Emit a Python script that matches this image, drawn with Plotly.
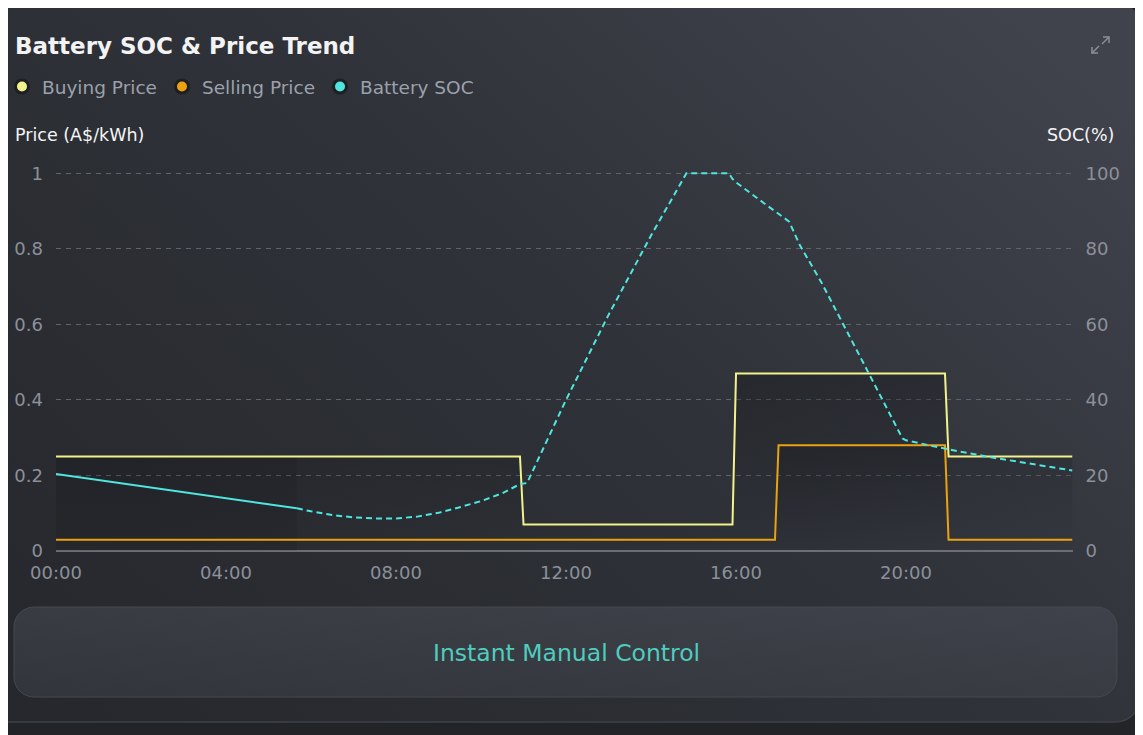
import base64
import plotly.graph_objects as go

W, H = 1143, 735
OX, OY = 8, 8  # page body margin offset

# price data (A$/kWh), step changes at 5-minute resolution
buy_times = ["00:00", "10:55", "11:00", "15:55", "16:00", "20:55", "21:00", "23:55"]
buy_price = [0.25, 0.25, 0.07, 0.07, 0.47, 0.47, 0.25, 0.25]
sell_times = ["00:00", "16:55", "17:00", "20:55", "21:00", "23:55"]
sell_price = [0.03, 0.03, 0.28, 0.28, 0.03, 0.03]

# battery SOC (%): recorded part and forecast part
soc_actual_times = ["00:00", "01:00", "02:00", "03:00", "04:00", "05:00", "05:40"]
soc_actual = [20.4, 18.8, 17.2, 15.6, 14.0, 12.4, 11.3]
soc_fc_times = ["05:40", "06:00", "06:30", "07:00", "07:30", "08:00", "08:30", "09:00",
                "09:30", "10:00", "10:30", "10:55", "11:05", "12:00", "13:00", "14:00",
                "14:50", "15:50", "15:55", "16:00", "16:40", "17:15", "17:30", "18:00",
                "19:00", "19:55", "20:00", "21:00", "22:00", "23:00", "23:55"]
soc_fc = [11.3, 10.5, 9.5, 8.9, 8.6, 8.6, 9.1, 10.1,
          11.6, 13.2, 15.3, 17.7, 18.0, 40.0, 62.5, 83.5,
          100, 100, 98.5, 97.6, 92.0, 87.2, 81.0, 71.3,
          49.7, 29.8, 29.3, 26.9, 24.8, 22.9, 21.3]

price_ticks = [0, 0.2, 0.4, 0.6, 0.8, 1]
soc_ticks = [0, 20, 40, 60, 80, 100]
hour_ticks = ["00:00", "04:00", "08:00", "12:00", "16:00", "20:00"]


def t(s):
    return "2024-01-01 " + s


def px(x):
    return (x - OX) / W


def py(y):
    return 1 - (y - OY) / H


YELLOW = "#f2f28c"
ORANGE = "#eca110"
CYAN = "#4fe6df"
FONT = "DejaVu Sans"

# card + button background as an svg image (in screen pixels, shifted by the body margin)
svg = f"""<svg xmlns="http://www.w3.org/2000/svg" width="{W}" height="{H}">
<defs>
<linearGradient id="g" x1="0" y1="0.85" x2="1" y2="0.15">
<stop offset="0" stop-color="#26282d"/><stop offset="0.55" stop-color="#2f3238"/><stop offset="1" stop-color="#40434c"/>
</linearGradient>
<linearGradient id="b" x1="0" y1="1" x2="1" y2="0">
<stop offset="0" stop-color="#32353b"/><stop offset="1" stop-color="#3f424a"/>
</linearGradient>
</defs>
<rect width="{W}" height="{H}" fill="#222428"/>
<g transform="translate({-OX},{-OY})">
<rect x="-30" y="3" width="1171" height="719" rx="26" fill="url(#g)" stroke="#3e4149" stroke-width="1.5"/>
<rect x="14" y="607" width="1103" height="90" rx="20" fill="url(#b)" stroke="#454850" stroke-width="1"/>
</g>
</svg>"""
svg_uri = "data:image/svg+xml;base64," + base64.b64encode(svg.encode()).decode()

fig = go.Figure()

# darker band under the past part of the buying price
fig.add_trace(go.Scatter(
    x=[t(s) for s in soc_actual_times[::len(soc_actual_times) - 1]],
    y=[buy_price[0], buy_price[0]],
    mode="lines", line=dict(width=0), fill="tozeroy",
    fillcolor="rgba(0,0,0,0.07)", showlegend=False, hoverinfo="skip"))

fig.add_trace(go.Scatter(
    x=[t(s) for s in buy_times], y=buy_price, mode="lines",
    line=dict(color=YELLOW, width=2), fill="tozeroy",
    fillgradient=dict(type="vertical", start=0, stop=0.47,
                      colorscale=[[0, "rgba(18,19,23,0)"], [1, "rgba(18,19,23,0.35)"]]),
    showlegend=False))
fig.add_trace(go.Scatter(
    x=[t(s) for s in sell_times], y=sell_price, mode="lines",
    line=dict(color=ORANGE, width=2), fill="tozeroy",
    fillgradient=dict(type="vertical", start=0, stop=0.28,
                      colorscale=[[0, "rgba(18,19,23,0)"], [1, "rgba(18,19,23,0.25)"]]),
    showlegend=False))
fig.add_trace(go.Scatter(
    x=[t(s) for s in soc_actual_times], y=soc_actual, mode="lines",
    line=dict(color=CYAN, width=2), yaxis="y2", showlegend=False))
fig.add_trace(go.Scatter(
    x=[t(s) for s in soc_fc_times], y=soc_fc, mode="lines",
    line=dict(color=CYAN, width=2, dash="6px,4px"), yaxis="y2", showlegend=False))

# legend entries as round dots
for name, col in [("Buying Price", YELLOW), ("Selling Price", ORANGE), ("Battery SOC", CYAN)]:
    fig.add_trace(go.Scatter(
        x=[None], y=[None], mode="markers", name=name,
        marker=dict(size=13, color=col, line=dict(width=3, color="#1d1f23"))))

tick_font = dict(family=FONT, size=18, color="#8b909a")

fig.update_layout(
    width=W, height=H,
    margin=dict(l=0, r=0, t=0, b=0, autoexpand=False),
    paper_bgcolor="#222428",
    plot_bgcolor="rgba(0,0,0,0)",
    font=dict(family=FONT, color="#8b909a"),
    showlegend=True,
    legend=dict(orientation="h", x=px(2), y=py(87), xanchor="left", yanchor="middle",
                font=dict(family=FONT, size=18.5, color="#9ba1ac"),
                bgcolor="rgba(0,0,0,0)", itemclick=False, traceorder="normal"),
    xaxis=dict(
        domain=[px(56), px(1072.5)], automargin=False,
        type="date", range=[t("00:00"), t("23:55")],
        tickvals=[t(s) for s in hour_ticks], ticktext=hour_ticks,
        showgrid=False, zeroline=False, showline=False,
        ticks="", ticklabelstandoff=9, tickfont=tick_font),
    yaxis=dict(
        domain=[py(551), py(165.7)], range=[0, 1.02], automargin=False,
        tickvals=price_ticks, ticktext=["0", "0.2", "0.4", "0.6", "0.8", "1"],
        showgrid=True, gridcolor="#5f636b", gridwidth=1, griddash="5px,5px",
        zeroline=True, zerolinecolor="#6b6e75", zerolinewidth=1.5,
        ticks="", ticklabelstandoff=12, tickfont=tick_font),
    yaxis2=dict(
        overlaying="y", side="right", range=[0, 102], automargin=False,
        tickvals=soc_ticks, showgrid=False, zeroline=False,
        ticks="", ticklabelstandoff=12, tickfont=tick_font),
    images=[dict(source=svg_uri, xref="paper", yref="paper", x=0, y=1,
                 sizex=1, sizey=1, xanchor="left", yanchor="top",
                 sizing="stretch", layer="below")],
    hovermode=False,
)

# expand icon
icon = "#8a8f99"
for path in [
    f"M {px(1092)},{py(47)} L {px(1092)},{py(53)} L {px(1098)},{py(53)}",
    f"M {px(1092)},{py(53)} L {px(1099)},{py(46)}",
    f"M {px(1103)},{py(37)} L {px(1109)},{py(37)} L {px(1109)},{py(43)}",
    f"M {px(1109)},{py(37)} L {px(1102)},{py(44)}",
]:
    fig.add_shape(type="path", path=path, xref="paper", yref="paper",
                  line=dict(color=icon, width=1.5))

fig.add_annotation(x=px(13), y=py(46), xref="paper", yref="paper", xanchor="left",
                   yanchor="middle", showarrow=False, text="Battery SOC & Price Trend",
                   font=dict(family=FONT, size=23, color="#f3f3f3", weight=700))
fig.add_annotation(x=px(13), y=py(135), xref="paper", yref="paper", xanchor="left",
                   yanchor="middle", showarrow=False, text="Price (A$/kWh)",
                   font=dict(family=FONT, size=17.5, color="#f5f5f5"))
fig.add_annotation(x=px(1116), y=py(135), xref="paper", yref="paper", xanchor="right",
                   yanchor="middle", showarrow=False, text="SOC(%)",
                   font=dict(family=FONT, size=17.5, color="#f5f5f5"))
fig.add_annotation(x=px(566), y=py(653), xref="paper", yref="paper", xanchor="center",
                   yanchor="middle", showarrow=False, text="Instant Manual Control",
                   font=dict(family=FONT, size=23.5, color="#4fcdbf"))

fig.write_html("out.html")
